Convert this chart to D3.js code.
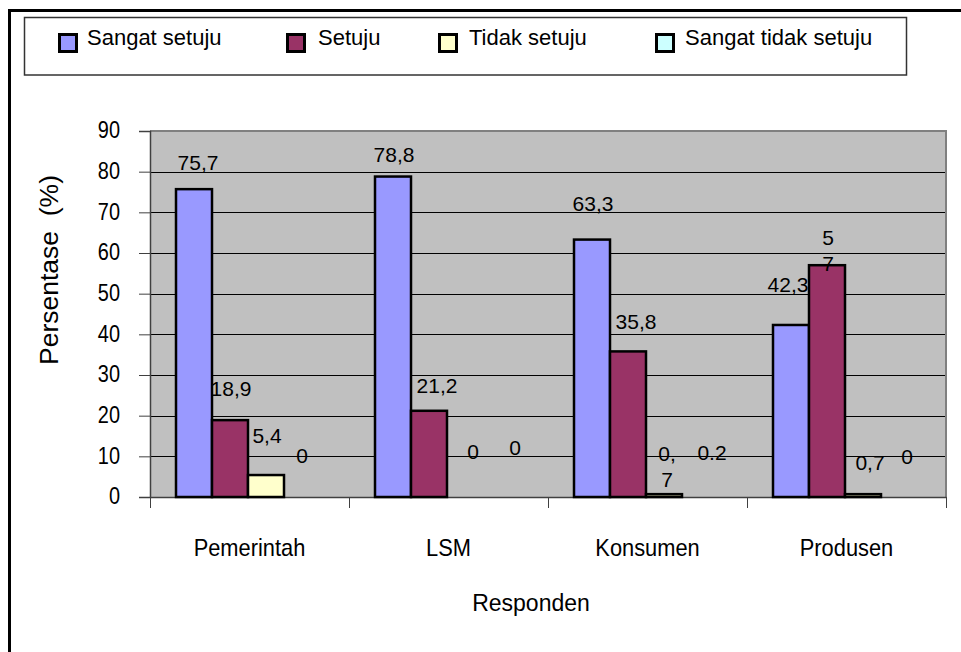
<!DOCTYPE html>
<html>
<head>
<meta charset="utf-8">
<script src="https://cdn.jsdelivr.net/npm/d3@7"></script>
<style>
  html, body { margin: 0; padding: 0; background: #fff; }
  svg { display: block; font-family: "Liberation Sans", Arial, sans-serif; }
</style>
</head>
<body>
<svg id="chart" width="961" height="652"></svg>
<script>
// ---------- data ----------
const categories = ["Pemerintah", "LSM", "Konsumen", "Produsen"];
const seriesNames = ["Sangat setuju", "Setuju", "Tidak setuju", "Sangat tidak setuju"];
const sangatSetuju = [75.7, 78.8, 63.3, 42.3];
const setuju = [18.9, 21.2, 35.8, 57];
const tidakSetuju = [5.4, 0, 0.7, 0.7];
const sangatTidakSetuju = [0, 0, 0.2, 0];
const yTicks = [0, 10, 20, 30, 40, 50, 60, 70, 80, 90];
// data label texts as printed in the chart
const labelsSangatSetuju = ["75,7", "78,8", "63,3", "42,3"];
const labelsSetuju = ["18,9", "21,2", "35,8", "5\n7"];
const labelsTidakSetuju = ["5,4", "0", "0,\n7", "0,7"];
const labelsSangatTidakSetuju = ["0", "0", "0.2", "0"];
const yTitle = "Persentase  (%)";
const xTitle = "Responden";

// ---------- layout / style ----------
const colors = ["#9999FF", "#993366", "#FFFFCC", "#CCFFFF"];
const labelOffsets = [
  [[4, -19], [1, -15], [1, -29], [-3, -33]],
  [[1, -24], [8, -18], [8, -22], [1, -20]],
  [[1, -32], [8, -38], [3, -33], [7, -24]],
  [[0, -34], [14, -42], [12, -36], [8, -33]]
];
const legendSwatchX = [58, 286, 438, 655];
const legendTextX = [87, 318, 469, 685];

const seriesValues = [sangatSetuju, setuju, tidakSetuju, sangatTidakSetuju];
const seriesLabels = [labelsSangatSetuju, labelsSetuju, labelsTidakSetuju, labelsSangatTidakSetuju];

const svg = d3.select("#chart");
const plot = { left: 150, right: 946, top: 131, bottom: 497 };

// outer frame (cut at right / bottom)
svg.append("path")
  .attr("d", `M9.5,660 L9.5,10.5 L970,10.5`)
  .attr("fill", "none").attr("stroke", "#000").attr("stroke-width", 3);

// legend box
svg.append("rect")
  .attr("x", 24.5).attr("y", 17.5).attr("width", 882).attr("height", 57.5)
  .attr("fill", "#fff").attr("stroke", "#333").attr("stroke-width", 1.5);

const lg = svg.append("g");
seriesNames.forEach((name, i) => {
  lg.append("rect")
    .attr("x", legendSwatchX[i] + 1.5).attr("y", 34.5)
    .attr("width", 17).attr("height", 17)
    .attr("fill", colors[i]).attr("stroke", "#000").attr("stroke-width", 3);
  lg.append("text")
    .attr("x", legendTextX[i]).attr("y", 45)
    .attr("font-size", 22).attr("fill", "#000")
    .text(name);
});

// scales
const x0 = d3.scaleBand().domain(categories).range([plot.left, plot.right]).paddingInner(0).paddingOuter(0);
const groupInset = 26;
const x1 = d3.scaleBand().domain(seriesNames).range([groupInset, groupInset + 144]).padding(0);
const y = d3.scaleLinear().domain([0, 90]).range([plot.bottom, plot.top]);

// plot background
svg.append("rect")
  .attr("x", plot.left).attr("y", plot.top)
  .attr("width", plot.right - plot.left).attr("height", plot.bottom - plot.top)
  .attr("fill", "#C0C0C0");

// gridlines
svg.append("g").selectAll("line")
  .data(yTicks.filter(t => t > 0 && t < 90))
  .join("line")
  .attr("x1", plot.left).attr("x2", plot.right)
  .attr("y1", d => Math.round(y(d)) + 0.5).attr("y2", d => Math.round(y(d)) + 0.5)
  .attr("stroke", "#000").attr("stroke-width", 1);

// top and right border
svg.append("path")
  .attr("d", `M${plot.left},${plot.top} L${plot.right},${plot.top} L${plot.right},${plot.bottom}`)
  .attr("fill", "none").attr("stroke", "#808080").attr("stroke-width", 2);

// y axis
const yAxis = d3.axisLeft(y).tickValues(yTicks).tickSize(11).tickPadding(19).tickFormat(d3.format("d"));
const yg = svg.append("g").attr("transform", `translate(${plot.left},0)`).call(yAxis);
yg.select(".domain").attr("stroke", "#404040").attr("stroke-width", 1.5);
yg.selectAll(".tick line").attr("stroke", "#404040");
yg.selectAll(".tick text")
  .attr("font-size", 24).attr("fill", "#000")
  .attr("font-family", "'Liberation Sans', Arial, sans-serif")
  .attr("x", null)
  .attr("dy", "0.28em")
  .attr("transform", "translate(-30,0) scale(0.83,1)");

// x axis
const xAxis = d3.axisBottom(x0).tickSize(0).tickPadding(38);
const xg = svg.append("g").attr("transform", `translate(0,${plot.bottom})`).call(xAxis);
xg.select(".domain").attr("stroke", "#404040").attr("stroke-width", 1.5);
xg.selectAll(".tick text")
  .attr("font-size", 24).attr("fill", "#000")
  .attr("font-family", "'Liberation Sans', Arial, sans-serif")
  .attr("y", 59).attr("dy", 0)
  .attr("transform", "scale(0.91,1)");
// category separator ticks
const sepTicks = categories.map(c => x0(c)).concat([plot.right]);
svg.append("g").selectAll("line").data(sepTicks).join("line")
  .attr("x1", d => Math.round(d) + 0.5).attr("x2", d => Math.round(d) + 0.5)
  .attr("y1", plot.bottom).attr("y2", plot.bottom + 11)
  .attr("stroke", "#404040").attr("stroke-width", 1);

// bars (bars thinner than one pixel are not drawn, as in the source chart)
const barData = [];
seriesValues.forEach((vals, si) => {
  vals.forEach((v, ci) => {
    barData.push({ si, ci, v, cat: categories[ci], name: seriesNames[si] });
  });
});
svg.append("g").selectAll("rect")
  .data(barData.filter(d => y(0) - y(d.v) >= 1))
  .join("rect")
  .attr("x", d => x0(d.cat) + x1(d.name))
  .attr("y", d => y(d.v))
  .attr("width", x1.bandwidth())
  .attr("height", d => y(0) - y(d.v))
  .attr("fill", d => colors[d.si])
  .attr("stroke", "#000").attr("stroke-width", 2.5);

// data labels
const lblG = svg.append("g");
barData.forEach(d => {
  const txt = seriesLabels[d.si][d.ci];
  const off = labelOffsets[d.si][d.ci];
  const cx = x0(d.cat) + x1(d.name) + x1.bandwidth() / 2 + off[0];
  const by = y(d.v) + off[1];
  const t = lblG.append("text")
    .attr("x", cx).attr("y", by)
    .attr("text-anchor", "middle")
    .attr("font-size", 21).attr("fill", "#000");
  txt.split("\n").forEach((line, li) => {
    t.append("tspan").attr("x", cx).attr("dy", li === 0 ? 0 : 26).text(line);
  });
});

// axis titles
svg.append("text")
  .attr("transform", `translate(58,270) rotate(-90)`)
  .attr("text-anchor", "middle")
  .attr("font-size", 26.5).attr("fill", "#000")
  .style("white-space", "pre")
  .text(yTitle);

svg.append("text")
  .attr("x", 531).attr("y", 611)
  .attr("text-anchor", "middle")
  .attr("font-size", 23).attr("fill", "#000")
  .text(xTitle);
</script>
</body>
</html>
